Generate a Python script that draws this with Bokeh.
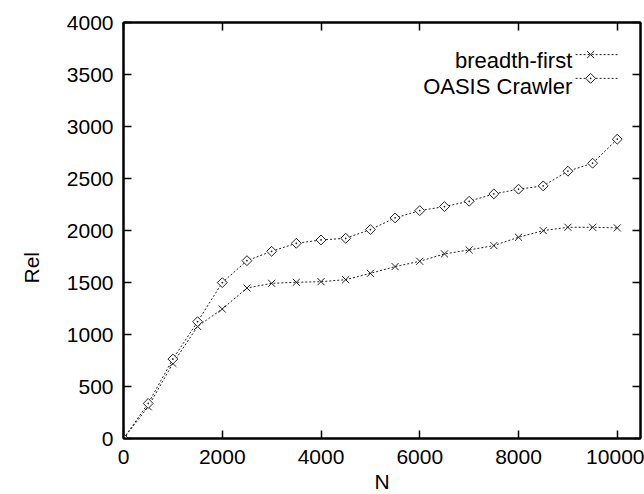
from bokeh.plotting import figure
from bokeh.models import (ColumnDataSource, FixedTicker, LinearAxis, Label,
                          Range1d, CustomJSTickFormatter, Title)
from bokeh.embed import file_html
from bokeh.resources import INLINE

# ---- data ----
n_pages = [0, 500, 1000, 1500, 2000, 2500, 3000, 3500, 4000, 4500, 5000,
           5500, 6000, 6500, 7000, 7500, 8000, 8500, 9000, 9500, 10000]
breadth_first = [0, 305, 722, 1078, 1245, 1447, 1492, 1502, 1508, 1527, 1588,
                 1653, 1704, 1775, 1813, 1855, 1935, 1999, 2031, 2031, 2025]
oasis_crawler = [0, 337, 764, 1123, 1499, 1710, 1800, 1877, 1909, 1925, 2009,
                 2121, 2191, 2230, 2281, 2352, 2397, 2429, 2570, 2647, 2878]
x_ticks = [0, 2000, 4000, 6000, 8000, 10000]
y_ticks = [0, 500, 1000, 1500, 2000, 2500, 3000, 3500, 4000]
series_names = ["breadth-first", "OASIS Crawler"]

# ---- layout / style ----
FONT = "Liberation Sans"
INK = "#222222"
X_MAX = 10470
Y_MAX = 4000

p = figure(width=644, height=494, frame_width=517, frame_height=416,
           min_border_left=123, min_border_right=4, min_border_top=22,
           min_border_bottom=56,
           x_range=Range1d(0, X_MAX), y_range=Range1d(0, Y_MAX),
           output_backend="svg", toolbar_location=None,
           background_fill_color="white", border_fill_color="white")
p.grid.visible = False
p.outline_line_color = "black"
p.outline_line_width = 2

def style_axis(ax, ticks, show_labels):
    ax.ticker = FixedTicker(ticks=ticks)
    ax.minor_tick_line_color = None
    ax.major_tick_in = 8
    ax.major_tick_out = 0
    ax.major_tick_line_color = "black"
    ax.major_tick_line_width = 1.5
    ax.axis_line_color = "black"
    ax.axis_line_width = 2
    ax.major_label_text_font = FONT
    ax.major_label_text_font_size = "21px"
    ax.major_label_text_color = "black"
    if not show_labels:
        ax.formatter = CustomJSTickFormatter(code="return ''")
        ax.major_label_standoff = 0
        ax.major_label_text_font_size = "0px"

style_axis(p.xaxis[0], x_ticks, True)
style_axis(p.yaxis[0], y_ticks, True)
p.xaxis[0].major_label_standoff = 11
p.yaxis[0].major_label_standoff = 10
p.xaxis[0].axis_label = "N"
p.xaxis[0].axis_label_text_font = FONT
p.xaxis[0].axis_label_text_font_size = "21px"
p.xaxis[0].axis_label_text_font_style = "normal"
p.xaxis[0].axis_label_text_color = "black"
p.xaxis[0].axis_label_standoff = 3

top_axis = LinearAxis()
style_axis(top_axis, x_ticks, False)
p.add_layout(top_axis, "above")
right_axis = LinearAxis()
style_axis(right_axis, y_ticks, False)
p.add_layout(right_axis, "right")

# y axis label, sitting below the frame centre as in the reference
p.add_layout(Title(text="Rel", align="left", offset=155, standoff=38,
                   vertical_align="top",
                   text_font=FONT, text_font_size="21px",
                   text_font_style="normal", text_color="black"), "left")

src = ColumnDataSource(dict(n=n_pages, bf=breadth_first, oc=oasis_crawler))

p.line("n", "bf", source=src, line_color=INK, line_width=1, line_dash="2 2")
p.scatter("n", "bf", source=src, marker="x", size=10, line_color=INK,
          line_width=1)
p.line("n", "oc", source=src, line_color=INK, line_width=1, line_dash="2 2")
p.scatter("n", "oc", source=src, marker="square_dot", size=7, angle=0.785,
          line_color=INK, fill_color="white", line_width=1)

# legend, key to the right of the text (gnuplot style)
LEG_TEXT_X = 9089
LEG_X0, LEG_X1, LEG_XM = 9156, 10026, 9460
LEG_Y = [3691, 3463]
LEG_BASE = [3633, 3382]
markers = ["x", "square_dot"]
for name, ly, lb, mk in zip(series_names, LEG_Y, LEG_BASE, markers):
    p.add_layout(Label(x=LEG_TEXT_X, y=lb, text=name, text_align="right",
                       text_baseline="alphabetic", text_font=FONT,
                       text_font_size="22px", text_color="black"))
    p.line([LEG_X0, LEG_X1], [ly, ly], line_color=INK, line_width=1,
           line_dash="2 2")
    if mk == "x":
        p.scatter([LEG_XM], [ly], marker=mk, size=10, line_color=INK,
                  line_width=1)
    else:
        p.scatter([LEG_XM], [ly], marker=mk, size=7, angle=0.785,
                  line_color=INK, fill_color="white", line_width=1)

open("out.html", "w").write(file_html(p, INLINE))
